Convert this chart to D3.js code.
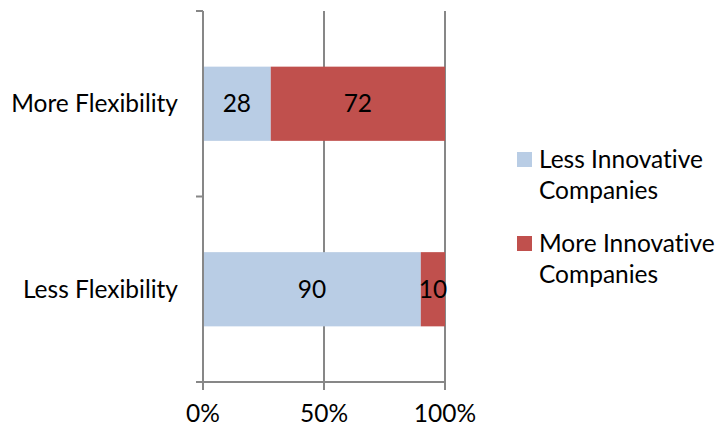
<!DOCTYPE html>
<html>
<head>
<meta charset="utf-8">
<script src="https://cdn.jsdelivr.net/npm/d3@7"></script>
<style>
  body { margin: 0; background: #fff; }
  text { font-family: Lato, "Open Sans", sans-serif; fill: #000; font-variant-ligatures: none; }
</style>
</head>
<body>
<svg id="chart" width="718" height="430"></svg>
<script>
// chart data
var categories = ["More Flexibility", "Less Flexibility"];
var seriesNames = ["Less Innovative Companies", "More Innovative Companies"];
var lessInnovative = [28, 90];
var moreInnovative = [72, 10];
var xTicks = [0, 0.5, 1];
var colors = ["#B9CDE5", "#C0504D"];

var svg = d3.select("#chart");
var plotLeft = 203, plotRight = 445, plotTop = 11, plotBottom = 382;
var fontSize = "24.5px";

var x = d3.scaleLinear().domain([0, 1]).range([plotLeft, plotRight]);
var y = d3.scaleBand().domain(categories).range([plotTop, plotBottom])
	.paddingInner(0.6).paddingOuter(0.3);

// gridlines
svg.append("g").selectAll("line")
	.data(xTicks.slice(1))
	.enter().append("line")
	.attr("x1", d => x(d)).attr("x2", d => x(d))
	.attr("y1", plotTop).attr("y2", plotBottom)
	.attr("stroke", "#878787").attr("stroke-width", 2);

// stacked rows
var rows = categories.map(function(c, i) {
	return {cat: c, vals: [lessInnovative[i], moreInnovative[i]]};
});
rows.forEach(function(r) {
	var total = r.vals[0] + r.vals[1];
	var acc = 0;
	r.vals.forEach(function(v, j) {
		var x0 = x(acc / total), x1 = x((acc + v) / total);
		svg.append("rect")
			.attr("x", x0).attr("y", y(r.cat))
			.attr("width", x1 - x0).attr("height", y.bandwidth())
			.attr("fill", colors[j]);
		svg.append("text")
			.attr("x", (x0 + x1) / 2)
			.attr("y", y(r.cat) + y.bandwidth() / 2)
			.attr("dy", "0.35em")
			.attr("text-anchor", "middle")
			.style("font-size", fontSize)
			.text(v);
		acc += v;
	});
});

// y axis
var yTickPos = [plotTop, (plotTop + plotBottom) / 2, plotBottom];
svg.append("line")
	.attr("x1", plotLeft).attr("x2", plotLeft).attr("y1", plotTop).attr("y2", plotBottom)
	.attr("stroke", "#878787").attr("stroke-width", 2);
svg.append("g").selectAll("line")
	.data(yTickPos).enter().append("line")
	.attr("x1", plotLeft - 7).attr("x2", plotLeft).attr("y1", d => d).attr("y2", d => d)
	.attr("stroke", "#878787").attr("stroke-width", 2);
svg.append("g").selectAll("text")
	.data(categories).enter().append("text")
	.attr("x", 178)
	.attr("y", d => y(d) + y.bandwidth() / 2)
	.attr("dy", "0.35em")
	.attr("text-anchor", "end")
	.style("font-size", fontSize)
	.text(d => d);

// x axis
svg.append("line")
	.attr("x1", plotLeft).attr("x2", plotRight).attr("y1", plotBottom).attr("y2", plotBottom)
	.attr("stroke", "#878787").attr("stroke-width", 2);
svg.append("g").selectAll("line")
	.data(xTicks).enter().append("line")
	.attr("x1", d => x(d)).attr("x2", d => x(d))
	.attr("y1", plotBottom).attr("y2", plotBottom + 8)
	.attr("stroke", "#878787").attr("stroke-width", 2);
svg.append("g").selectAll("text")
	.data(xTicks).enter().append("text")
	.attr("x", d => x(d))
	.attr("y", 413)
	.attr("dy", "0.35em")
	.attr("text-anchor", "middle")
	.style("font-size", fontSize)
	.text(d3.format(".0%"));

// legend
var legendY = [152, 236];
seriesNames.forEach(function(name, i) {
	var g = svg.append("g").attr("transform", "translate(517," + legendY[i] + ")");
	g.append("rect").attr("width", 15).attr("height", 15).attr("fill", colors[i]);
	var words = name.split(" ");
	var lines = [words.slice(0, 2).join(" "), words.slice(2).join(" ")];
	lines.forEach(function(l, k) {
		g.append("text")
			.attr("x", 22).attr("y", 7 + k * 31)
			.attr("dy", "0.35em")
			.style("font-size", fontSize)
			.text(l);
	});
});
</script>
</body>
</html>
